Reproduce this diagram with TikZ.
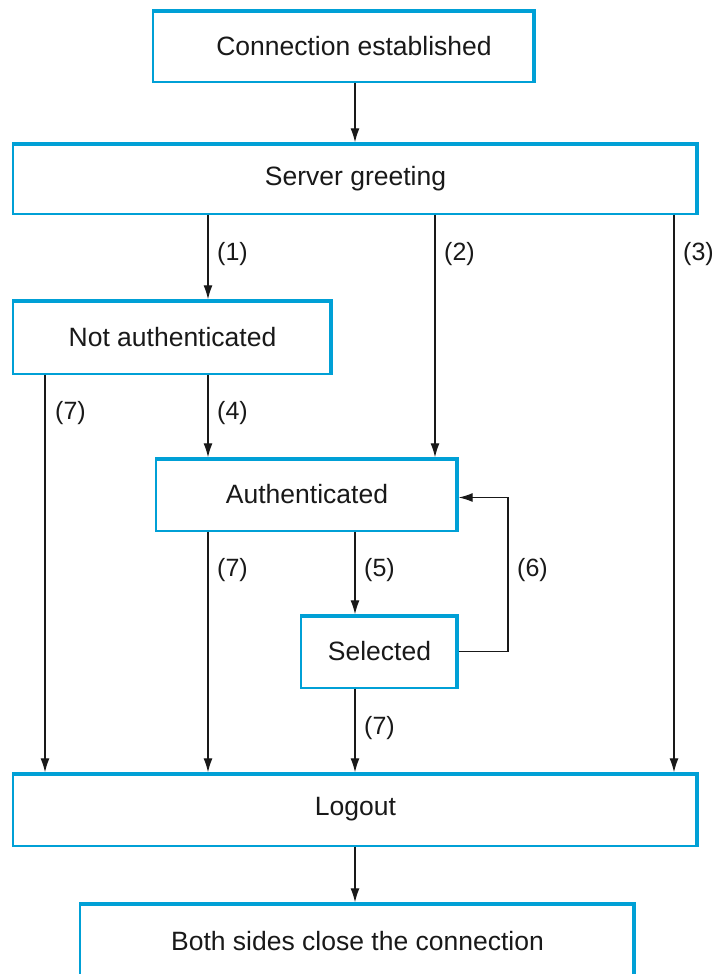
\documentclass[tikz,border=0pt]{standalone}
\usepackage{fontspec}
\setmainfont{Liberation Sans}
\usetikzlibrary{arrows.meta}
\definecolor{boxblue}{RGB}{0,160,214}
\definecolor{ink}{RGB}{25,25,25}
\begin{document}
\begin{tikzpicture}[x=1pt,y=-1pt,
  statebox/.style={draw=boxblue, line width=1.4pt, fill=white, inner sep=0pt,
    text=ink, font=\fontsize{26.5}{30}\selectfont},
  arr/.style={draw=ink, line width=1.2pt, -{Latex[length=14pt,width=9pt]}},
  lbl/.style={text=ink, font=\fontsize{25}{29}\selectfont, anchor=west, inner sep=0pt},
  thick edge/.style={draw=boxblue, line width=4.5pt, line cap=butt, line join=miter}]
\useasboundingbox (0,0) rectangle (715,974);

\node[statebox, minimum width=382pt, minimum height=72pt] (conn) at (344,46) {\hspace*{20pt}Connection established};
\node[statebox, minimum width=685pt, minimum height=71pt] (server) at (355.5,178.5) {Server greeting};
\node[statebox, minimum width=319pt, minimum height=74pt] (notauth) at (172.5,337) {Not authenticated};
\node[statebox, minimum width=302pt, minimum height=73pt] (auth) at (307,494.5) {Authenticated};
\node[statebox, minimum width=157pt, minimum height=73pt] (sel) at (379.5,651.5) {Selected};
\node[statebox, minimum width=685pt, minimum height=73pt] (logout) at (355.5,809.5) {Logout};
\node[statebox, minimum width=555pt, minimum height=76pt] (close) at (357.5,941) {Both sides close the connection};

\foreach \n in {conn,server,notauth,auth,sel,logout,close}{
  \draw[thick edge] ([yshift=-1.5pt]\n.north west) -- ([xshift=-1.5pt,yshift=-1.5pt]\n.north east) -- ([xshift=-1.5pt]\n.south east);
}

\coordinate (xl) at (45,0);
\coordinate (xa) at (208,0);
\coordinate (xm) at (355,0);
\coordinate (xb) at (435,0);
\coordinate (xr) at (674,0);
\coordinate (xloop) at (508,0);

\draw[arr] (conn.south -| xm) -- (server.north -| xm);
\draw[arr] (server.south -| xa) -- (notauth.north -| xa);
\node[lbl] (l1) at (217,254) {(1)};
\draw[arr] (server.south -| xb) -- (auth.north -| xb);
\node[lbl] (l2) at (444,254) {(2)};
\draw[arr] (server.south -| xr) -- (logout.north -| xr);
\node[lbl] (l3) at (683,254) {(3)};
\draw[arr] (notauth.south -| xl) -- (logout.north -| xl);
\node[lbl] (l7a) at (55,413) {(7)};
\draw[arr] (notauth.south -| xa) -- (auth.north -| xa);
\node[lbl] (l4) at (217,413) {(4)};
\draw[arr] (auth.south -| xa) -- (logout.north -| xa);
\node[lbl] (l7b) at (217,570) {(7)};
\draw[arr] (auth.south -| xm) -- (sel.north -| xm);
\node[lbl] (l5) at (364,570) {(5)};
\draw[arr] (sel.east) -- (sel.east -| xloop) -- ([yshift=-3pt]auth.east -| xloop) -- ([yshift=-3pt]auth.east);
\node[lbl] (l6) at (517,570) {(6)};
\draw[arr] (sel.south -| xm) -- (logout.north -| xm);
\node[lbl] (l7c) at (364,728) {(7)};
\draw[arr] (logout.south -| xm) -- (close.north -| xm);
\end{tikzpicture}
\end{document}
